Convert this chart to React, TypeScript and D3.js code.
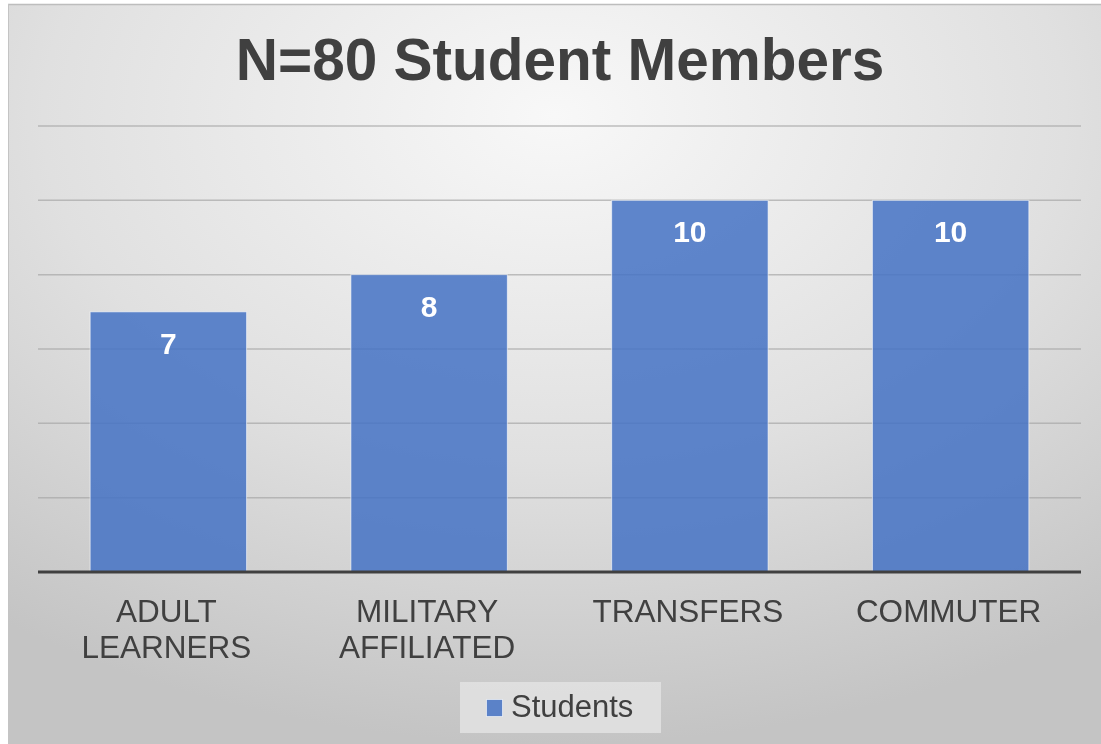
import React from 'react'
import { scaleBand, scaleLinear } from 'd3'

const categories = [['ADULT', 'LEARNERS'], ['MILITARY', 'AFFILIATED'], ['TRANSFERS'], ['COMMUTER']]
const students = [7, 8, 10, 10]
const gridTicks = [2, 4, 6, 8, 10, 12]
const seriesName = 'Students'
const title = 'N=80 Student Members'

const W = 1101
const H = 744
const font = "'Liberation Sans', Arial, sans-serif"
const barColor = '#4472C4'

export default function App() {
  const keys = categories.map(c => c.join(' '))
  const x = scaleBand<string>().domain(keys).range([38, 1081]).paddingInner(0.4).paddingOuter(0.2)
  const y = scaleLinear().domain([0, 12]).range([572, 126])

  return (
    <div style={{ position: 'fixed', left: 0, top: 0 }}>
      <svg width={W} height={H} style={{ display: 'block' }}>
        <defs>
          <radialGradient id='bg' cx='50%' cy='15%' r='85%' gradientUnits='objectBoundingBox'>
            <stop offset='0%' stopColor='#f8f8f8' />
            <stop offset='55%' stopColor='#e0e0e0' />
            <stop offset='100%' stopColor='#c4c4c4' />
          </radialGradient>
        </defs>
        <rect x={8} y={4} width={W - 8} height={H - 4} fill='url(#bg)' />
        <line x1={8} x2={W} y1={4.5} y2={4.5} stroke='#bdbdbd' strokeWidth={1.5} />
        <line x1={8.5} x2={8.5} y1={4} y2={H} stroke='#c4c4c4' strokeWidth={1} />

        <text x={560} y={80} textAnchor='middle' fontFamily={font} fontWeight='bold' fontSize={58.5} fill='#404040'>
          {title}
        </text>

        {gridTicks.map(t => (
          <line key={t} x1={38} x2={1081} y1={y(t)} y2={y(t)} stroke='#a6a6a6' strokeOpacity={0.7} strokeWidth={1.5} />
        ))}

        {students.map((v, i) => (
          <g key={keys[i]}>
            <rect
              x={x(keys[i])}
              y={y(v)}
              width={x.bandwidth()}
              height={y(0) - y(v)}
              fill={barColor}
              fillOpacity={0.85}
              stroke='#ffffff'
              strokeOpacity={0.6}
              strokeWidth={1}
            />
            <text
              x={(x(keys[i]) ?? 0) + x.bandwidth() / 2}
              y={y(v) + 42}
              textAnchor='middle'
              fontFamily={font}
              fontWeight='bold'
              fontSize={30}
              fill='#ffffff'
            >
              {v}
            </text>
          </g>
        ))}

        <line x1={38} x2={1081} y1={y(0)} y2={y(0)} stroke='#404040' strokeWidth={3} />

        {categories.map((lines, i) => (
          <text
            key={keys[i]}
            x={(x(keys[i]) ?? 0) + x.bandwidth() / 2}
            textAnchor='middle'
            fontFamily={font}
            fontSize={31.5}
            fill='#404040'
          >
            {lines.map((l, j) => (
              <tspan key={l} x={(x(keys[i]) ?? 0) + x.bandwidth() / 2 - 2} y={622 + j * 35.5}>{l}</tspan>
            ))}
          </text>
        ))}

        <rect x={460} y={682} width={201} height={51} fill='#e3e3e3' fillOpacity={0.8} />
        <rect x={486.5} y={699.5} width={16} height={17} fill={barColor} fillOpacity={0.85} stroke='#ffffff' strokeOpacity={0.6} />
        <text x={511} y={717} fontFamily={font} fontSize={31} fill='#404040'>{seriesName}</text>
      </svg>
    </div>
  )
}
